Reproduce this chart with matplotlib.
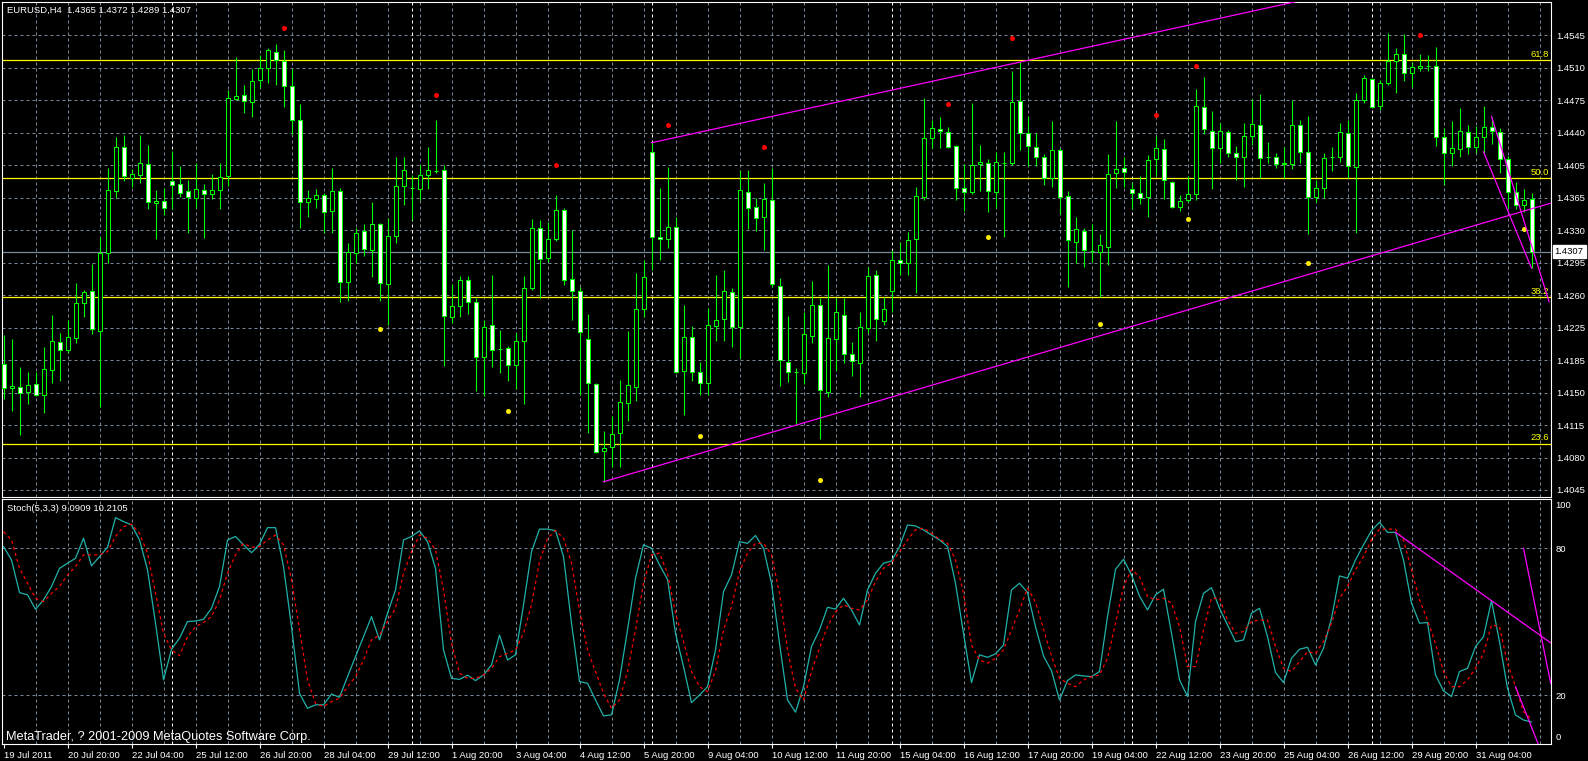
import numpy as np
import matplotlib
matplotlib.use("Agg")
import matplotlib.pyplot as plt

plt.rcParams['font.family'] = ['Liberation Sans', 'DejaVu Sans']

# EURUSD H4 bars, bar 0 = 19 Jul 2011 12:00
opens = [1.4184, 1.4157, 1.4158, 1.4153, 1.4162, 1.4150, 1.4177, 1.4208, 1.4199, 1.4212, 1.4251, 1.4264,
         1.4220, 1.4306, 1.4374, 1.4422, 1.4388, 1.4392, 1.4404, 1.4361, 1.4363, 1.4385, 1.4382, 1.4374,
         1.4366, 1.4375, 1.4371, 1.4375, 1.4390, 1.4475, 1.4480, 1.4472, 1.4496, 1.4509, 1.4527, 1.4517,
         1.4489, 1.4452, 1.4362, 1.4365, 1.4370, 1.4352, 1.4374, 1.4274, 1.4306, 1.4330, 1.4309, 1.4338,
         1.4272, 1.4324, 1.4379, 1.4377, 1.4376, 1.4392, 1.4396, 1.4397, 1.4235, 1.4247, 1.4276, 1.4252,
         1.4191, 1.4227, 1.4200, 1.4201, 1.4183, 1.4209, 1.4267, 1.4333, 1.4300, 1.4321, 1.4353, 1.4277,
         1.4264, 1.4211, 1.4162, 1.4088, 1.4092, 1.4108, 1.4141, 1.4158, 1.4244, 1.4417, 1.4323, 1.4321,
         1.4334, 1.4176, 1.4213, 1.4175, 1.4163, 1.4225, 1.4233, 1.4263, 1.4224, 1.4373, 1.4356, 1.4345,
         1.4364, 1.4269, 1.4186, 1.4175, 1.4174, 1.4214, 1.4249, 1.4153, 1.4211, 1.4238, 1.4195, 1.4185,
         1.4223, 1.4282, 1.4231, 1.4264, 1.4298, 1.4295, 1.4321, 1.4367, 1.4432, 1.4442, 1.4439, 1.4423,
         1.4377, 1.4373, 1.4404, 1.4405, 1.4373, 1.4405, 1.4405, 1.4473, 1.4438, 1.4422, 1.4411, 1.4388,
         1.4419, 1.4368, 1.4318, 1.4330, 1.4308, 1.4307, 1.4312, 1.4394, 1.4399, 1.4376, 1.4372, 1.4367,
         1.4409, 1.4420, 1.4384, 1.4356, 1.4364, 1.4371, 1.4466, 1.4440, 1.4421, 1.4439, 1.4416, 1.4411,
         1.4434, 1.4447, 1.4411, 1.4411, 1.4404, 1.4404, 1.4447, 1.4417, 1.4367, 1.4377, 1.4411, 1.4411,
         1.4438, 1.4400, 1.4474, 1.4497, 1.4467, 1.4493, 1.4517, 1.4525, 1.4504, 1.4509, 1.4511, 1.4511,
         1.4433, 1.4416, 1.4420, 1.4439, 1.4422, 1.4433, 1.4444, 1.4439, 1.4409, 1.4373, 1.4359, 1.4365]
highs = [1.4216, 1.4211, 1.4180, 1.4175, 1.4175, 1.4202, 1.4238, 1.4218, 1.4232, 1.4273, 1.4265, 1.4294,
         1.4323, 1.4399, 1.4433, 1.4436, 1.4398, 1.4436, 1.4425, 1.4375, 1.4377, 1.4418, 1.4401, 1.4386,
         1.4405, 1.4382, 1.4393, 1.4405, 1.4485, 1.4521, 1.4491, 1.4508, 1.4524, 1.4531, 1.4536, 1.4529,
         1.4508, 1.4470, 1.4375, 1.4376, 1.4372, 1.4399, 1.4377, 1.4317, 1.4333, 1.4338, 1.4362, 1.4339,
         1.4344, 1.4411, 1.4411, 1.4392, 1.4403, 1.4422, 1.4452, 1.4403, 1.4272, 1.4280, 1.4280, 1.4256,
         1.4232, 1.4282, 1.4221, 1.4203, 1.4218, 1.4280, 1.4343, 1.4342, 1.4340, 1.4370, 1.4355, 1.4331,
         1.4268, 1.4239, 1.4163, 1.4110, 1.4126, 1.4166, 1.4220, 1.4284, 1.4298, 1.4428, 1.4377, 1.4400,
         1.4345, 1.4249, 1.4225, 1.4186, 1.4245, 1.4282, 1.4287, 1.4267, 1.4397, 1.4397, 1.4366, 1.4383,
         1.4399, 1.4278, 1.4236, 1.4179, 1.4241, 1.4275, 1.4256, 1.4293, 1.4256, 1.4256, 1.4208, 1.4241,
         1.4290, 1.4287, 1.4257, 1.4309, 1.4318, 1.4329, 1.4378, 1.4476, 1.4452, 1.4455, 1.4444, 1.4425,
         1.4404, 1.4471, 1.4425, 1.4409, 1.4417, 1.4417, 1.4506, 1.4516, 1.4456, 1.4438, 1.4415, 1.4451,
         1.4421, 1.4374, 1.4345, 1.4333, 1.4338, 1.4327, 1.4415, 1.4451, 1.4411, 1.4384, 1.4390, 1.4414,
         1.4434, 1.4431, 1.4385, 1.4370, 1.4390, 1.4486, 1.4499, 1.4462, 1.4449, 1.4441, 1.4423, 1.4449,
         1.4475, 1.4481, 1.4428, 1.4416, 1.4422, 1.4474, 1.4452, 1.4456, 1.4386, 1.4416, 1.4422, 1.4449,
         1.4452, 1.4482, 1.4502, 1.4498, 1.4496, 1.4548, 1.4531, 1.4547, 1.4516, 1.4525, 1.4524, 1.4532,
         1.4443, 1.4451, 1.4465, 1.4447, 1.4445, 1.4467, 1.4455, 1.4443, 1.4412, 1.4384, 1.4376, 1.4372]
lows = [1.4145, 1.4132, 1.4106, 1.4140, 1.4148, 1.4130, 1.4163, 1.4165, 1.4196, 1.4207, 1.4235, 1.4217,
        1.4136, 1.4295, 1.4366, 1.4385, 1.4378, 1.4383, 1.4354, 1.4321, 1.4348, 1.4354, 1.4367, 1.4328,
        1.4355, 1.4322, 1.4365, 1.4354, 1.4379, 1.4474, 1.4460, 1.4455, 1.4487, 1.4493, 1.4491, 1.4466,
        1.4437, 1.4333, 1.4345, 1.4355, 1.4328, 1.4328, 1.4252, 1.4253, 1.4295, 1.4302, 1.4279, 1.4253,
        1.4227, 1.4317, 1.4359, 1.4342, 1.4364, 1.4376, 1.4394, 1.4181, 1.4229, 1.4235, 1.4239, 1.4154,
        1.4148, 1.4180, 1.4174, 1.4165, 1.4156, 1.4140, 1.4265, 1.4256, 1.4296, 1.4319, 1.4271, 1.4232,
        1.4150, 1.4108, 1.4086, 1.4054, 1.4070, 1.4070, 1.4121, 1.4143, 1.4235, 1.4287, 1.4298, 1.4311,
        1.4174, 1.4128, 1.4165, 1.4150, 1.4150, 1.4209, 1.4209, 1.4202, 1.4190, 1.4332, 1.4330, 1.4309,
        1.4268, 1.4159, 1.4164, 1.4118, 1.4162, 1.4207, 1.4101, 1.4147, 1.4177, 1.4185, 1.4170, 1.4147,
        1.4218, 1.4209, 1.4227, 1.4241, 1.4282, 1.4282, 1.4262, 1.4364, 1.4421, 1.4421, 1.4421, 1.4364,
        1.4352, 1.4371, 1.4374, 1.4351, 1.4355, 1.4323, 1.4403, 1.4419, 1.4401, 1.4401, 1.4381, 1.4378,
        1.4349, 1.4268, 1.4295, 1.4290, 1.4296, 1.4257, 1.4293, 1.4377, 1.4378, 1.4354, 1.4360, 1.4345,
        1.4390, 1.4365, 1.4355, 1.4352, 1.4362, 1.4364, 1.4437, 1.4376, 1.4405, 1.4411, 1.4386, 1.4378,
        1.4425, 1.4388, 1.4405, 1.4399, 1.4388, 1.4398, 1.4405, 1.4327, 1.4362, 1.4366, 1.4396, 1.4406,
        1.4388, 1.4328, 1.4471, 1.4465, 1.4463, 1.4491, 1.4482, 1.4495, 1.4488, 1.4506, 1.4506, 1.4423,
        1.4381, 1.4401, 1.4411, 1.4415, 1.4416, 1.4416, 1.4426, 1.4394, 1.4355, 1.4354, 1.4351, 1.4289]
closes = [1.4157, 1.4159, 1.4152, 1.4161, 1.4150, 1.4178, 1.4209, 1.4199, 1.4213, 1.4251, 1.4263, 1.4222,
          1.4306, 1.4375, 1.4422, 1.4390, 1.4393, 1.4405, 1.4362, 1.4363, 1.4355, 1.4381, 1.4372, 1.4367,
          1.4376, 1.4371, 1.4375, 1.4389, 1.4476, 1.4478, 1.4473, 1.4495, 1.4509, 1.4529, 1.4518, 1.4489,
          1.4452, 1.4362, 1.4366, 1.4370, 1.4351, 1.4374, 1.4274, 1.4307, 1.4328, 1.4310, 1.4338, 1.4273,
          1.4324, 1.4379, 1.4397, 1.4377, 1.4392, 1.4397, 1.4396, 1.4236, 1.4247, 1.4276, 1.4252, 1.4191,
          1.4224, 1.4199, 1.4200, 1.4183, 1.4209, 1.4267, 1.4333, 1.4299, 1.4321, 1.4353, 1.4276, 1.4264,
          1.4219, 1.4163, 1.4087, 1.4091, 1.4107, 1.4142, 1.4161, 1.4244, 1.4279, 1.4323, 1.4321, 1.4334,
          1.4175, 1.4213, 1.4175, 1.4163, 1.4227, 1.4232, 1.4264, 1.4224, 1.4375, 1.4355, 1.4344, 1.4365,
          1.4272, 1.4188, 1.4175, 1.4175, 1.4217, 1.4249, 1.4155, 1.4212, 1.4241, 1.4195, 1.4187, 1.4224,
          1.4280, 1.4233, 1.4244, 1.4298, 1.4295, 1.4320, 1.4368, 1.4432, 1.4443, 1.4440, 1.4422, 1.4377,
          1.4373, 1.4403, 1.4406, 1.4374, 1.4406, 1.4405, 1.4472, 1.4438, 1.4423, 1.4411, 1.4388, 1.4419,
          1.4367, 1.4320, 1.4332, 1.4309, 1.4308, 1.4315, 1.4393, 1.4398, 1.4395, 1.4372, 1.4366, 1.4408,
          1.4421, 1.4386, 1.4356, 1.4363, 1.4371, 1.4467, 1.4442, 1.4421, 1.4440, 1.4416, 1.4411, 1.4434,
          1.4448, 1.4410, 1.4411, 1.4404, 1.4404, 1.4447, 1.4417, 1.4367, 1.4377, 1.4410, 1.4411, 1.4439,
          1.4401, 1.4474, 1.4498, 1.4466, 1.4493, 1.4517, 1.4525, 1.4504, 1.4510, 1.4511, 1.4511, 1.4433,
          1.4416, 1.4421, 1.4440, 1.4422, 1.4433, 1.4444, 1.4440, 1.4409, 1.4373, 1.4359, 1.4364, 1.4307]

# Stochastic(5,3,3)
stoch_main = [80.7, 75.2, 61.9, 61.0, 55.1, 58.9, 64.4, 71.8, 73.9, 75.9, 84.1, 72.8,
              76.6, 80.4, 92.5, 90.9, 89.5, 83.4, 71.2, 49.4, 26.3, 38.8, 43.3, 50.1,
              50.3, 51.0, 55.5, 64.4, 83.4, 84.8, 81.4, 78.2, 81.6, 88.4, 88.4, 72.5,
              48.0, 20.8, 14.7, 16.1, 16.1, 20.5, 19.2, 27.6, 35.8, 43.9, 52.1, 42.6,
              53.5, 63.0, 83.4, 84.8, 87.1, 82.7, 71.8, 38.5, 26.9, 26.5, 28.2, 26.0,
              28.3, 32.4, 44.6, 34.4, 36.5, 56.9, 78.6, 87.8, 87.8, 87.2, 76.6, 49.4,
              25.6, 24.9, 18.1, 11.6, 12.0, 26.3, 46.7, 67.8, 81.4, 80.0, 73.2, 67.3,
              45.3, 31.7, 17.0, 20.1, 23.5, 38.5, 62.3, 69.1, 82.7, 82.0, 85.2, 80.0,
              65.7, 41.2, 18.1, 13.1, 23.5, 39.9, 46.7, 55.9, 55.2, 59.6, 54.8, 48.7,
              63.0, 69.8, 73.9, 74.8, 80.7, 89.5, 89.1, 87.5, 85.4, 83.4, 80.7, 65.7,
              45.3, 25.2, 36.5, 35.5, 36.9, 40.5, 63.0, 65.7, 62.0, 48.0, 36.0, 30.0,
              18.1, 26.0, 28.3, 27.9, 27.6, 29.7, 52.1, 71.4, 75.5, 69.1, 60.5, 54.8,
              61.0, 63.3, 45.3, 26.3, 19.5, 50.1, 61.6, 63.9, 55.5, 48.7, 41.9, 42.6,
              53.5, 55.5, 43.9, 29.3, 25.2, 35.1, 38.8, 39.6, 32.4, 39.2, 51.4, 68.7,
              67.8, 75.2, 81.4, 87.2, 90.6, 86.5, 86.5, 75.2, 57.6, 49.4, 49.7, 28.3,
              21.8, 19.5, 29.7, 31.0, 39.9, 43.9, 58.6, 41.9, 22.9, 12.0, 9.9, 9.0909]
stoch_signal = [86.8, 83.4, 71.8, 65.7, 59.6, 58.2, 61.6, 64.4, 69.1, 72.5, 77.3, 77.3,
                77.3, 78.6, 84.8, 88.8, 89.8, 86.1, 78.0, 61.6, 45.3, 38.5, 36.2, 43.9,
                48.0, 49.7, 52.1, 58.9, 69.8, 77.3, 82.0, 80.4, 80.7, 83.4, 85.4, 81.4,
                67.1, 46.7, 26.3, 16.7, 15.4, 17.4, 18.8, 23.5, 27.6, 34.4, 42.6, 44.6,
                50.1, 55.5, 69.8, 78.6, 85.4, 84.1, 79.3, 63.0, 41.2, 29.0, 26.9, 26.9,
                28.3, 31.0, 35.8, 37.1, 38.5, 45.3, 57.0, 74.6, 84.1, 87.2, 84.1, 73.9,
                54.8, 38.5, 29.7, 20.8, 14.7, 18.1, 29.7, 46.7, 65.7, 77.3, 78.0, 69.8,
                53.5, 41.9, 29.7, 23.5, 21.5, 30.0, 46.7, 56.2, 70.5, 78.0, 82.0, 82.0,
                77.3, 61.6, 38.5, 22.9, 18.1, 29.7, 39.2, 48.0, 54.1, 56.9, 55.5, 54.8,
                58.9, 66.4, 71.8, 73.9, 78.6, 83.4, 87.5, 88.2, 86.1, 83.7, 82.0, 75.2,
                61.6, 40.5, 34.4, 33.1, 35.1, 38.5, 46.7, 54.8, 63.7, 58.0, 47.0, 36.0,
                26.9, 24.9, 23.5, 26.3, 27.6, 28.3, 35.1, 49.4, 64.4, 71.2, 68.4, 60.3,
                58.9, 59.6, 57.6, 48.0, 31.7, 31.7, 46.7, 59.6, 59.6, 50.7, 45.3, 46.0,
                50.1, 50.7, 50.7, 39.9, 31.0, 29.7, 33.7, 37.8, 37.1, 41.9, 49.4, 59.6,
                64.4, 71.2, 76.6, 83.4, 87.8, 87.8, 87.8, 83.4, 71.2, 58.9, 50.7, 41.2,
                29.7, 23.5, 23.5, 26.3, 31.0, 37.1, 48.7, 48.0, 33.1, 23.5, 13.3, 10.2105]

# swing dots
red_idx = [35, 54, 69, 83, 95, 118, 126, 144, 149, 177]
red_val = [1.4553, 1.4480, 1.4403, 1.4447, 1.4422, 1.4470, 1.4542, 1.4457, 1.4511, 1.4545]
yel_idx = [47, 63, 87, 102, 123, 137, 148, 163, 190]
yel_val = [1.4222, 1.4132, 1.4104, 1.4056, 1.4323, 1.4228, 1.4343, 1.4295, 1.4332]

fib_levels = [1.4518, 1.4388, 1.4257, 1.4096]
fib_names = ['61.8', '50.0', '38.2', '23.6']
bid = 1.4307

price_labels = ['1.4545', '1.4510', '1.4475', '1.4440', '1.4405', '1.4365', '1.4330', '1.4295',
                '1.4260', '1.4225', '1.4185', '1.4150', '1.4115', '1.4080', '1.4045']
time_labels = ['19 Jul 2011', '20 Jul 20:00', '22 Jul 04:00', '25 Jul 12:00', '26 Jul 20:00',
               '28 Jul 04:00', '29 Jul 12:00', '1 Aug 20:00', '3 Aug 04:00', '4 Aug 12:00',
               '5 Aug 20:00', '9 Aug 04:00', '10 Aug 12:00', '11 Aug 20:00', '15 Aug 04:00',
               '16 Aug 12:00', '17 Aug 20:00', '19 Aug 04:00', '22 Aug 12:00', '23 Aug 20:00',
               '25 Aug 04:00', '26 Aug 12:00', '29 Aug 20:00', '31 Aug 04:00']
week_starts = [21, 51, 81, 111, 141, 171]

# trend lines: (bar, value) anchors
upper_line = [(81, 1.4427), (160.4, 1.4580)]
lower_line = [(75, 1.4054), (193.2, 1.4360)]
short_lines = [[(186, 1.4456), (193.2, 1.4252)], [(185, 1.4417), (191.0, 1.4289)]]
stoch_lines = [[(174, 86.5), (186, 58.6)], [(190, 80.0), (193.4, 24.9)], [(189, 23.5), (191.8, 0.4)]]

GREEN = '#00ff00'
GRID = '#778899'
MAG = '#ff00ff'
FS = 6.8

W, H = 1588, 761
fig = plt.figure(figsize=(W / 100, H / 100), dpi=100, facecolor='black')


def add_panel(left, top, right, bottom):
    a = fig.add_axes([left / W, 1 - bottom / H, (right - left) / W, (bottom - top) / H])
    a.set_facecolor('black')
    for s in a.spines.values():
        s.set_color('white')
        s.set_linewidth(0.8)
    return a


ax = add_panel(2, 2.3, 1550.7, 496.7)
sax = add_panel(2, 498.5, 1550.7, 744.3)

n = len(opens)
idx = np.arange(n)
xmax = 193.4
for a in (ax, sax):
    a.set_xlim(-0.19, xmax)
    for gx in range(4, n + 1, 4):
        a.axvline(gx, color=GRID, lw=0.72, ls=(0, (3, 3)), zorder=0)
    for wx in week_starts:
        a.axvline(wx, color='white', lw=0.72, ls=(0, (3, 3)), zorder=0.5)

ax.set_ylim(1.40376, 1.45815)
price_ticks = np.linspace(1.4545, 1.4045, len(price_labels))
for p in price_ticks:
    ax.axhline(p, color=GRID, lw=0.72, ls=(0, (3, 3)), zorder=0)

# fibo levels and bid line
for lv, nm in zip(fib_levels, fib_names):
    ax.axhline(lv, color='yellow', lw=0.9, zorder=1)
    ax.annotate(nm, xy=(1, lv), xycoords=('axes fraction', 'data'), xytext=(-2, 1.5),
                textcoords='offset pixels', ha='right', va='bottom', color='yellow', fontsize=FS)
ax.axhline(bid, color=GRID, lw=0.9, zorder=1)

# candles
o = np.array(opens); c = np.array(closes); hi = np.array(highs); lo = np.array(lows)
ax.vlines(idx, lo, hi, color=GREEN, lw=0.8, zorder=3)
body_lo = np.minimum(o, c)
body_h = np.maximum(np.abs(c - o), 0.00002)
faces = np.where(c > o, 'black', 'white')
ax.bar(idx, body_h, bottom=body_lo, width=0.5, color=faces, edgecolor=GREEN, linewidth=0.75, zorder=4)

ax.plot(red_idx, red_val, 'o', color='red', ms=3.6, mew=0, zorder=5)
ax.plot(yel_idx, yel_val, 'o', color='#ffee00', ms=3.6, mew=0, zorder=5)


def ray(a, pts, x_end, **kw):
    (x0, y0), (x1, y1) = pts
    k = (y1 - y0) / (x1 - x0)
    a.plot([x0, x_end], [y0, y0 + k * (x_end - x0)], **kw)


ray(ax, upper_line, xmax, color=MAG, lw=0.9, zorder=6)
ray(ax, lower_line, xmax, color=MAG, lw=0.9, zorder=6)
for pts in short_lines:
    ax.plot(*zip(*pts), color=MAG, lw=0.9, zorder=6)

# price axis
ax.yaxis.tick_right()
ax.set_yticks(price_ticks, price_labels)
ax.tick_params(axis='y', colors='white', labelsize=FS, length=0, pad=3.8)
ax.set_xticks([])
ax.annotate('%.4f' % bid, xy=(1, bid), xycoords=('axes fraction', 'data'), xytext=(4, 0),
            textcoords='offset pixels', ha='left', va='center', color='black', fontsize=FS,
            bbox=dict(boxstyle='square,pad=0.2', fc='white', ec='white'), annotation_clip=False)

ax.annotate('EURUSD,H4  %.4f %.4f %.4f %.4f' % (opens[-1], highs[-1], lows[-1], closes[-1]),
            xy=(0, 1), xycoords='axes fraction', xytext=(5, -8), textcoords='offset pixels',
            ha='left', va='center', color='white', fontsize=FS)

# stochastic panel
sax.set_ylim(0, 100.3)
for v in (20, 80):
    sax.axhline(v, color=GRID, lw=0.72, ls=(0, (3, 3)), zorder=0)
sax.plot(idx, stoch_main, color='#20b2aa', lw=0.9, zorder=3)
sax.plot(idx, stoch_signal, color='red', lw=0.9, ls=(0, (2.5, 2.5)), zorder=3)
for pts in stoch_lines:
    ray(sax, pts, pts[1][0] if pts[1][0] >= xmax else xmax, color=MAG, lw=0.9, zorder=4)

sax.yaxis.tick_right()
sax.set_yticks([20, 80], ['20', '80'])
sax.tick_params(axis='y', colors='white', labelsize=FS, length=0, pad=3.8)
for v, dy in ((100, -6), (0, 7)):
    sax.annotate(str(v), xy=(1, v), xycoords=('axes fraction', 'data'), xytext=(5, dy),
                 textcoords='offset pixels', ha='left', va='center', color='white', fontsize=FS,
                 annotation_clip=False)

sax.set_xticks(np.arange(0, 8 * len(time_labels), 8), time_labels)
sax.tick_params(axis='x', colors='white', labelsize=FS, length=3, width=0.8, pad=1.5)
for t in sax.get_xticklabels():
    t.set_ha('left')

sax.annotate('Stoch(5,3,3) %.4f %.4f' % (stoch_main[-1], stoch_signal[-1]), xy=(0, 1),
             xycoords='axes fraction', xytext=(5, -10), textcoords='offset pixels',
             ha='left', va='center', color='white', fontsize=FS)
sax.annotate('MetaTrader, ? 2001-2009 MetaQuotes Software Corp.', xy=(0, 0), xycoords='axes fraction',
             xytext=(4, 7), textcoords='offset pixels', ha='left', va='center', color='white', fontsize=9.2)

fig.savefig('out.png', dpi=100, facecolor='black')
